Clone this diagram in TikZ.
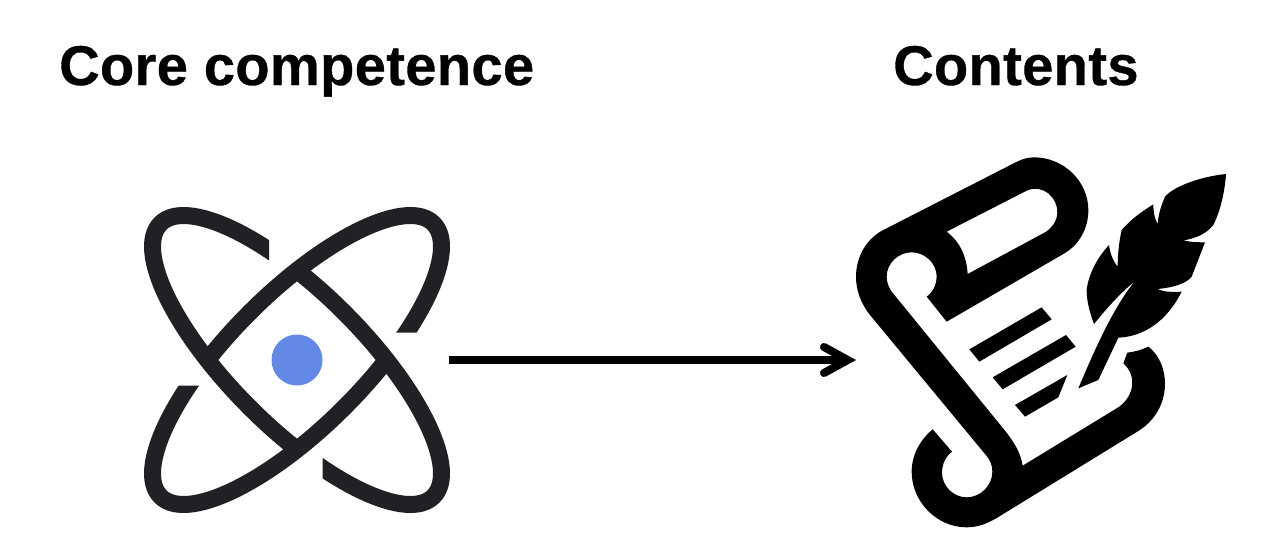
\documentclass[tikz,border=0pt]{standalone}
\usepackage{fontspec}
\setmainfont{Liberation Sans}[LetterSpace=0.7,BoldFeatures={FakeBold=0.6}]
\usetikzlibrary{arrows.meta,calc}
\definecolor{atomink}{HTML}{202124}
\definecolor{atomdot}{HTML}{6388E6}
\tikzset{
  heading/.style={font=\fontsize{56}{62}\selectfont\bfseries,text=black,inner sep=0pt,anchor=base west},
  ring/.style={draw=atomink,line width=17pt},
  iconbox/.style={inner sep=0pt,outer sep=0pt,draw=none},
  flow/.style={line width=8pt,shorten >=9pt},
  barb/.style={line width=8pt,line cap=round,line join=miter},
  inkfill/.style={fill=black,draw=none}
}
\begin{document}
\begin{tikzpicture}[x=1pt,y=-1pt]
\useasboundingbox[fill=white] (0,0) rectangle (1269,551);

\node[heading] (corehead) at (59,85) {Core competence};
\node[heading] (conthead) at (893,85) {Contents};

\node[iconbox,minimum width=304pt,minimum height=304pt] (atom) at (297,360) {};
\node[iconbox,minimum width=370pt,minimum height=372pt] (scroll) at (1041,342) {};
\coordinate (tip) at (scroll.west |- atom.east);

% atom: ring running NW-SE
\begin{scope}[even odd rule]
  \clip (0,0) rectangle (1269,551)
     (269,190) rectangle (297,300)
     (297,420) rectangle (322.7,530);
  \draw[ring] (atom.center) ellipse[x radius=193pt,y radius=67pt,rotate=-45];
\end{scope}
% atom: ring running NE-SW
\begin{scope}[even odd rule]
  \clip (0,0) rectangle (1269,551)
     (357,332.7) rectangle (467,360)
     (127,360) rectangle (237,385.7);
  \draw[ring] (atom.center) ellipse[x radius=193pt,y radius=67pt,rotate=45];
\end{scope}
\fill[atomdot] (atom.center) circle[radius=25.5pt];

\draw[flow] (atom.east) -- (tip);
\draw[barb] ($(tip)+(-32,-13)$) -- ($(tip)+(-8.3,0)$) -- ($(tip)+(-32,13)$);

% scroll and quill, traced in 3x crop coordinates
\begin{scope}[shift={(840,150)},xscale=1/3,yscale=1/3]
  \fill[inkfill,even odd rule]
    (130,240) -- (525,38)
    .. controls (545,28) and (560,22) .. (582,22)
    .. controls (672,22) and (745,95) .. (745,180)
    .. controls (745,235) and (718,285) .. (670,312)
    -- (320,515) -- (260,440)
    .. controls (280,425) and (290,403) .. (290,380)
    .. controls (290,340) and (255,307) .. (215,307)
    .. controls (175,307) and (140,340) .. (140,380)
    .. controls (140,397) and (146,412) .. (155,425)
    -- (495,842)
    .. controls (525,880) and (542,910) .. (548,947)
    -- (830,775)
    .. controls (880,745) and (895,680) .. (850,640)
    -- (862,608)
    .. controls (885,605) and (905,600) .. (925,590)
    .. controls (955,612) and (975,655) .. (975,700)
    .. controls (975,760) and (945,812) .. (895,843)
    -- (480,1098)
    .. controls (445,1120) and (415,1132) .. (380,1132)
    .. controls (290,1132) and (215,1055) .. (215,965)
    .. controls (215,915) and (240,870) .. (278,838)
    -- (336,905)
    .. controls (318,918) and (306,942) .. (306,968)
    .. controls (306,1008) and (340,1042) .. (380,1042)
    .. controls (420,1042) and (457,1008) .. (457,965)
    .. controls (457,945) and (450,930) .. (440,918)
    -- (90,495)
    .. controls (62,460) and (48,420) .. (48,380)
    .. controls (48,320) and (80,265) .. (130,240) -- cycle
    (320,245) -- (560,122)
    .. controls (610,100) and (655,145) .. (652,190)
    .. controls (650,215) and (635,235) .. (615,247)
    -- (383,372)
    .. controls (380,320) and (360,275) .. (320,245) -- cycle;
  \fill[inkfill] (605,472) -- (635,508) -- (418,635) -- (388,598) -- cycle;
  \fill[inkfill] (678,555) -- (707,590) -- (488,718) -- (458,682) -- cycle;
  \fill[inkfill] (682,675) -- (655,742) -- (555,800) -- (525,765) -- cycle;
  \fill[inkfill]
    (715,715) -- (775,690) -- (835,563)
    .. controls (910,560) and (980,515) .. (1025,425)
    .. controls (990,427) and (970,425) .. (952,417)
    .. controls (1000,413) and (1040,400) .. (1055,380)
    -- (1095,277)
    .. controls (1065,277) and (1045,275) .. (1030,271)
    .. controls (1070,265) and (1100,250) .. (1120,225)
    .. controls (1145,175) and (1155,115) .. (1158,72)
    .. controls (1080,80) and (1000,110) .. (975,140)
    .. controls (962,170) and (955,195) .. (953,222)
    .. controls (943,205) and (940,185) .. (940,163)
    .. controls (905,185) and (870,210) .. (845,240)
    .. controls (837,275) and (833,315) .. (833,350)
    .. controls (820,335) and (810,310) .. (807,285)
    .. controls (770,325) and (745,375) .. (740,420)
    .. controls (740,455) and (750,490) .. (762,522)
    .. controls (800,475) and (840,430) .. (883,395)
    .. controls (820,475) and (770,585) .. (715,715) -- cycle;
\end{scope}
\end{tikzpicture}
\end{document}
